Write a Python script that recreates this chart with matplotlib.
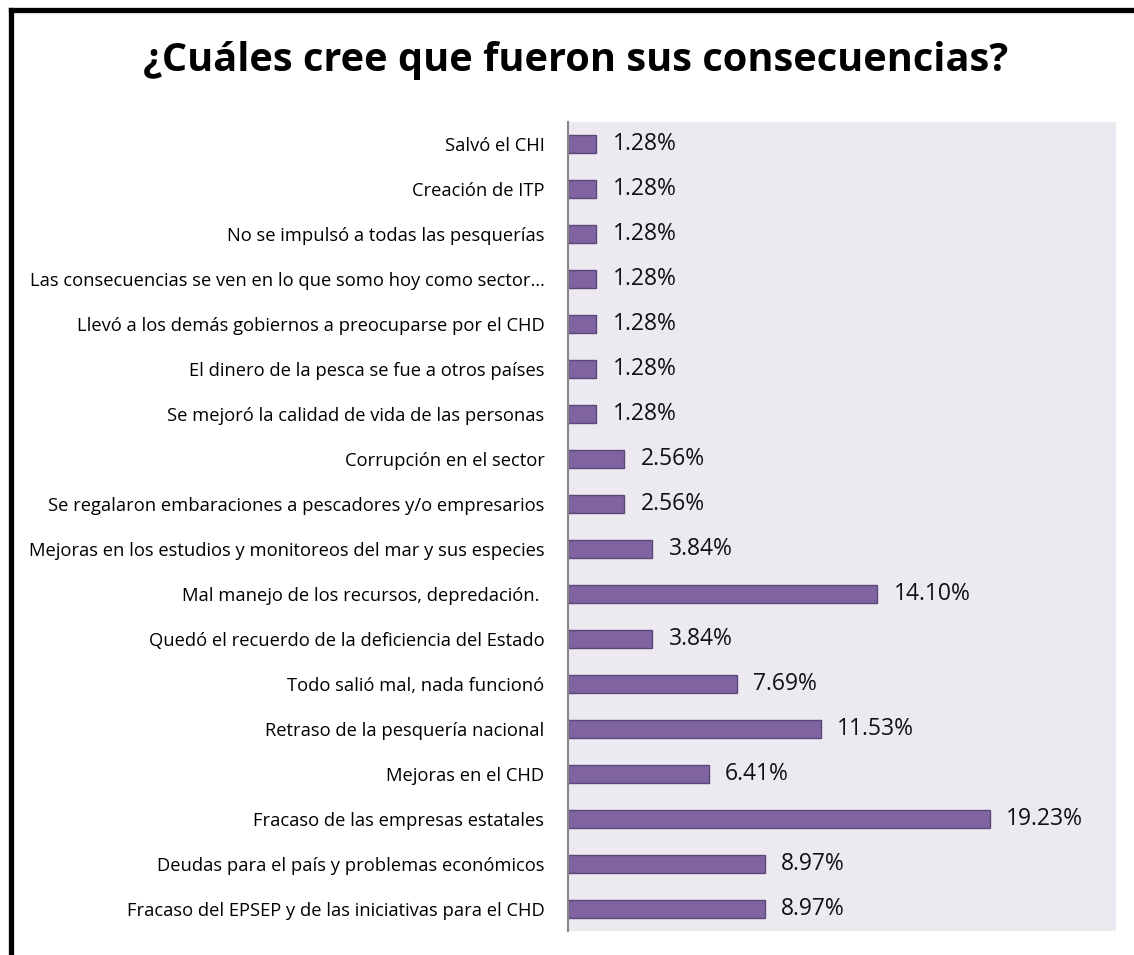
import matplotlib.pyplot as plt
from matplotlib.lines import Line2D

# categories top to bottom, as in the chart
labels = [
    "Salvó el CHI",
    "Creación de ITP",
    "No se impulsó a todas las pesquerías",
    "Las consecuencias se ven en lo que somo hoy como sector…",
    "Llevó a los demás gobiernos a preocuparse por el CHD",
    "El dinero de la pesca se fue a otros países",
    "Se mejoró la calidad de vida de las personas",
    "Corrupción en el sector",
    "Se regalaron embaraciones a pescadores y/o empresarios",
    "Mejoras en los estudios y monitoreos del mar y sus especies",
    "Mal manejo de los recursos, depredación. ",
    "Quedó el recuerdo de la deficiencia del Estado",
    "Todo salió mal, nada funcionó",
    "Retraso de la pesquería nacional",
    "Mejoras en el CHD",
    "Fracaso de las empresas estatales",
    "Deudas para el país y problemas económicos",
    "Fracaso del EPSEP y de las iniciativas para el CHD",
]
values = [1.28, 1.28, 1.28, 1.28, 1.28, 1.28, 1.28, 2.56, 2.56, 3.84,
          14.10, 3.84, 7.69, 11.53, 6.41, 19.23, 8.97, 8.97]

plt.rcParams['font.family'] = ['Open Sans', 'DejaVu Sans']

W, H = 1134, 955
fig = plt.figure(figsize=(W/100, H/100), dpi=100)
ax = fig.add_axes([568/W, 1-931/H, 548/W, 809/H])
ax.set_facecolor("#ECEAF0")

# reverse so first label is on top
y = list(range(len(labels)))[::-1]
ax.barh(y, values, height=0.4, color="#8064A2", edgecolor="#5C4878", linewidth=1)

for yi, v in zip(y, values):
    ax.text(v + 0.75, yi, f"{v:.2f}%", va="center", ha="left", fontsize=16.5, color="#111111")

ax.set_yticks(y)
ax.set_yticklabels(labels, fontsize=13.2)
ax.tick_params(axis="y", length=0, pad=17)
ax.set_xticks([])
ax.set_xlim(0, 25)
ax.set_ylim(-0.5, len(labels)-0.5)
for s in ["top", "right", "bottom"]:
    ax.spines[s].set_visible(False)
ax.spines["left"].set_color("#888888")
ax.spines["left"].set_linewidth(1.5)

fig.text(576/W, 1-60/H, "¿Cuáles cree que fueron sus consecuencias?",
         ha="center", va="center", fontsize=28.6, fontweight="bold")

# black frame: only top and left edges are visible
fig.lines.append(Line2D([10.5/W, 1], [1-10.5/H, 1-10.5/H], transform=fig.transFigure,
                        color="black", linewidth=3.8, solid_capstyle="projecting"))
fig.lines.append(Line2D([10.5/W, 10.5/W], [1-10.5/H, 0], transform=fig.transFigure,
                        color="black", linewidth=3.8, solid_capstyle="projecting"))

fig.savefig("out.png", dpi=100)
